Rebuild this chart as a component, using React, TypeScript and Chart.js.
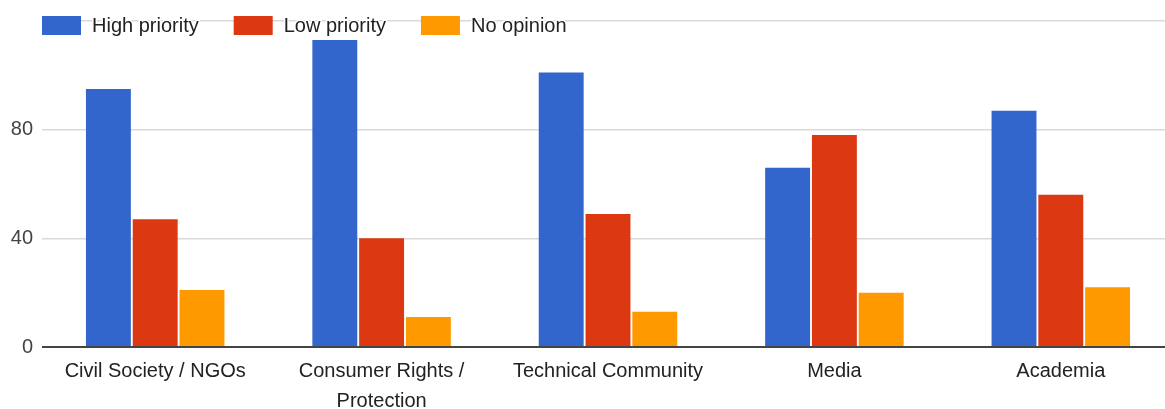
import React, { useEffect, useRef } from "react";
import { Chart, registerables } from "chart.js";

Chart.register(...registerables);

const categories = [
  "Civil Society / NGOs",
  ["Consumer Rights /", "Protection"],
  "Technical Community",
  "Media",
  "Academia",
];
const seriesNames = ["High priority", "Low priority", "No opinion"];
const highPriority = [95, 113, 101, 66, 87];
const lowPriority = [47, 40, 49, 78, 56];
const noOpinion = [21, 11, 13, 20, 22];
const yTicks = [0, 40, 80, 120];

const FONT = "'Liberation Sans', Arial, sans-serif";

// google-style legend drawn over the plot, text with a white halo
const topLegend = {
  id: "topLegend",
  afterDatasetsDraw(chart: any) {
    const ctx = chart.ctx;
    ctx.save();
    ctx.font = `20px ${FONT}`;
    ctx.textBaseline = "middle";
    let x = 42;
    chart.data.datasets.forEach((ds: any) => {
      ctx.fillStyle = ds.backgroundColor;
      ctx.fillRect(x, 16, 39, 19);
      const tx = x + 50;
      ctx.lineWidth = 3;
      ctx.strokeStyle = "#fff";
      ctx.lineJoin = "round";
      ctx.strokeText(ds.label, tx, 26);
      ctx.fillStyle = "#222";
      ctx.fillText(ds.label, tx, 26);
      x = tx + ctx.measureText(ds.label).width + 35;
    });
    ctx.restore();
  },
};

export default function App() {
  const canvasRef = useRef<HTMLCanvasElement>(null);

  useEffect(() => {
    const ctx = canvasRef.current?.getContext("2d");
    if (!ctx) return;
    const chart = new Chart(ctx, {
      type: "bar",
      data: {
        labels: categories,
        datasets: [
          { label: seriesNames[0], data: highPriority, backgroundColor: "#3366cc" },
          { label: seriesNames[1], data: lowPriority, backgroundColor: "#dc3912" },
          { label: seriesNames[2], data: noOpinion, backgroundColor: "#ff9900" },
        ],
      },
      options: {
        animation: false,
        responsive: true,
        maintainAspectRatio: false,
        layout: { padding: { top: 20, right: 2, left: 0, bottom: 0 } },
        datasets: {
          bar: { categoryPercentage: 0.62, barPercentage: 0.96 },
        },
        plugins: {
          legend: { display: false },
          tooltip: { enabled: false },
        },
        scales: {
          x: {
            grid: { display: false },
            border: { display: false },
            ticks: {
              color: "#222",
              padding: 1,
              maxRotation: 0,
              autoSkip: false,
              font: { family: FONT, size: 20, lineHeight: 1.5 },
            },
            afterFit: (scale: any) => {
              scale.height = 62;
            },
          },
          y: {
            min: 0,
            max: 120,
            border: { display: false },
            grid: {
              drawTicks: false,
              color: (c: any) => (c.tick && c.tick.value === 0 ? "#444" : "#d9d9d9"),
              lineWidth: (c: any) => (c.tick && c.tick.value === 0 ? 2 : 1.5),
            },
            afterBuildTicks: (scale: any) => {
              scale.ticks = yTicks.map((v) => ({ value: v }));
            },
            ticks: {
              color: "#444",
              padding: 9,
              font: { family: FONT, size: 20 },
              callback: (v: any) => (v === 120 ? "" : String(v)),
            },
            afterFit: (scale: any) => {
              scale.width = 42;
            },
          },
        },
      },
      plugins: [topLegend],
    });
    return () => {
      chart.destroy();
    };
  }, []);

  return (
    <div
      style={{
        position: "absolute",
        left: 0,
        top: 0,
        width: 1165,
        height: 409,
        overflow: "hidden",
        background: "#fff",
      }}
    >
      <div style={{ position: "relative", width: 1176, height: 409 }}>
        <canvas ref={canvasRef} />
      </div>
    </div>
  );
}
